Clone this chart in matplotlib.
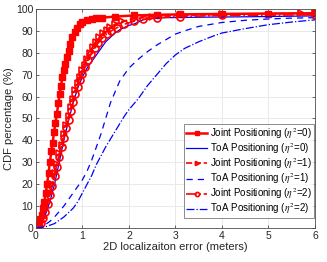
import matplotlib
matplotlib.use("Agg")
from matplotlib import pyplot as plt

plt.rcParams['font.family'] = ['Liberation Sans', 'DejaVu Sans']
plt.rcParams['mathtext.fontset'] = 'stix'

# Joint positioning, eta^2 = 0
joint0_x = [0, 0.03, 0.06, 0.09, 0.12, 0.15, 0.18, 0.21, 0.24, 0.27, 0.30, 0.33, 0.36, 0.39,
            0.42, 0.45, 0.48, 0.51, 0.54, 0.57, 0.60, 0.63, 0.66, 0.70, 0.74, 0.78, 0.83, 0.88,
            0.94, 1.0, 1.1, 1.2, 1.3, 1.43, 1.7, 2.1, 2.6, 3.1, 4.0, 5.0, 6.0]
joint0_y = [0, 1, 2, 4, 6, 9, 12, 16, 20, 25, 30, 35, 39, 44, 48, 52, 57, 61, 65, 69, 72, 75,
            78, 81, 84, 87, 89.5, 91.5, 93, 94, 94.8, 95.3, 95.7, 96, 96.5, 97, 97.3, 97.5,
            97.7, 97.9, 98]

# Joint positioning, eta^2 = 1
joint1_x = [0, 0.05, 0.1, 0.15, 0.2, 0.25, 0.3, 0.35, 0.4, 0.45, 0.5, 0.55, 0.6, 0.65, 0.7,
            0.75, 0.8, 0.85, 0.9, 0.95, 1.0, 1.05, 1.1, 1.16, 1.22, 1.29, 1.36, 1.44, 1.52,
            1.6, 1.7, 1.85, 2.1, 2.5, 3.1, 4.0, 5.7, 6.0]
joint1_y = [0, 1, 2.5, 5, 8, 12, 16, 20, 25, 29, 34, 38, 43, 47, 51, 55, 59, 63, 66, 69, 72,
            74.5, 77, 80, 82.5, 85, 87, 89, 90.5, 91.8, 93, 94.3, 95.5, 96.5, 97, 97.5, 98, 98]

# Joint positioning, eta^2 = 2
joint2_x = [0, 0.05, 0.1, 0.15, 0.2, 0.25, 0.3, 0.35, 0.4, 0.45, 0.5, 0.55, 0.6, 0.65, 0.7,
            0.75, 0.8, 0.85, 0.9, 0.95, 1.0, 1.06, 1.12, 1.19, 1.26, 1.34, 1.42, 1.52, 1.62,
            1.75, 1.9, 2.1, 2.3, 2.6, 3.1, 4.0, 6.0]
joint2_y = [0, 1, 2.3, 4.5, 7.5, 11, 15, 19, 23.5, 28, 32.5, 37, 41, 45.5, 49.5, 53.5, 57.5,
            61, 64.5, 67.5, 70.5, 73.5, 76.5, 79.5, 82, 84.5, 86.5, 88.5, 90, 91.5, 93, 94.3,
            95.2, 96, 96.5, 97, 97.3]

# ToA positioning
toa0_x = [0, 0.1, 0.2, 0.3, 0.4, 0.5, 0.6, 0.7, 0.8, 0.9, 1.0, 1.1, 1.2, 1.3, 1.4, 1.5, 1.6,
          1.7, 1.8, 1.9, 2.0, 2.1, 2.2, 2.3, 2.5, 2.8, 3.5, 4.5, 6.0]
toa0_y = [0, 2, 6, 12, 20, 30, 40, 49, 57, 64, 69, 73, 76, 79, 82, 85, 87, 89, 90.5, 91.5,
          92.5, 93, 94, 95, 95.8, 96, 96.2, 96.4, 96.8]

toa1_x = [0, 0.1, 0.2, 0.3, 0.4, 0.5, 0.6, 0.7, 0.8, 0.9, 1.0, 1.1, 1.2, 1.3, 1.4, 1.5, 1.6,
          1.7, 1.8, 1.9, 2.0, 2.2, 2.4, 2.6, 2.8, 3.0, 3.2, 3.5, 4.0, 4.5, 5.0, 5.5, 6.0]
toa1_y = [0, 0.5, 1.5, 3, 5, 7.5, 10, 13, 16, 19, 22, 26, 31, 37, 43, 50, 57, 62, 67, 70, 73,
          77, 80.5, 83.5, 86, 88.5, 90, 92, 93.8, 94.8, 95.4, 95.8, 96]

toa2_x = [0, 0.2, 0.4, 0.5, 0.6, 0.7, 0.8, 0.9, 1.0, 1.1, 1.2, 1.3, 1.4, 1.5, 1.6, 1.7, 1.8,
          1.9, 2.0, 2.2, 2.4, 2.6, 2.8, 3.0, 3.2, 3.5, 3.8, 4.0, 4.5, 5.0, 5.5, 6.0]
toa2_y = [0, 0.5, 2, 3.5, 5, 7, 9, 12, 16, 20, 24, 29, 33, 37, 40.5, 44, 47.5, 51, 54, 59, 65,
          70, 75, 79, 82, 85, 87.5, 89, 91, 92.8, 94, 95]

fig = plt.figure(figsize=(3.27, 2.62), dpi=100)
ax = fig.add_axes([0.110, 0.130, 0.853, 0.836])

red = (1, 0, 0)
blue = (0, 0, 1)
ax.plot(joint0_x, joint0_y, '-', color=red, lw=1.8, marker='s', ms=4.5, mfc=red,
        label=r'Joint Positioning ($\eta^2$=0)')
ax.plot(toa0_x, toa0_y, '-', color=blue, lw=0.9, label=r'ToA Positioning ($\eta^2$=0)')
ax.plot(joint1_x, joint1_y, '--', color=red, lw=1.2, marker='>', ms=5, mfc='none', mew=1.2,
        label=r'Joint Positioning ($\eta^2$=1)')
ax.plot(toa1_x, toa1_y, '--', color=blue, lw=0.9, dashes=(5, 4), label=r'ToA Positioning ($\eta^2$=1)')
ax.plot(joint2_x, joint2_y, '-.', color=red, lw=1.2, marker='o', ms=5, mfc='none', mew=1.2,
        label=r'Joint Positioning ($\eta^2$=2)')
ax.plot(toa2_x, toa2_y, '-.', color=blue, lw=0.9, label=r'ToA Positioning ($\eta^2$=2)')

ax.set_xlim(0, 6)
ax.set_ylim(0, 100)
ax.set_xticks(range(0, 7))
ax.set_yticks(range(0, 101, 10))
ax.grid(True, color='#e6e6e6', lw=0.6)
ax.set_axisbelow(True)
for s in ax.spines.values():
    s.set_color('#4d4d4d')
    s.set_linewidth(0.6)
ax.tick_params(direction='in', length=2.5, width=0.6, colors='#4d4d4d', labelsize=7.5,
               labelcolor='#262626', top=True, right=True, pad=2)
ax.set_xlabel('2D localizaiton error (meters)', fontsize=8, color='#262626', labelpad=1)
ax.set_ylabel('CDF percentage (%)', fontsize=8, color='#262626', labelpad=1)

leg = ax.legend(loc='lower right', bbox_to_anchor=(0.997, 0.045), borderaxespad=0,
                fontsize=7, frameon=True, fancybox=False, edgecolor='#595959',
                handlelength=2.2, handletextpad=0.3, borderpad=0.2, labelspacing=0.02,
                markerscale=0.6)
leg.get_frame().set_linewidth(0.6)

fig.savefig('out.png', dpi=100)
